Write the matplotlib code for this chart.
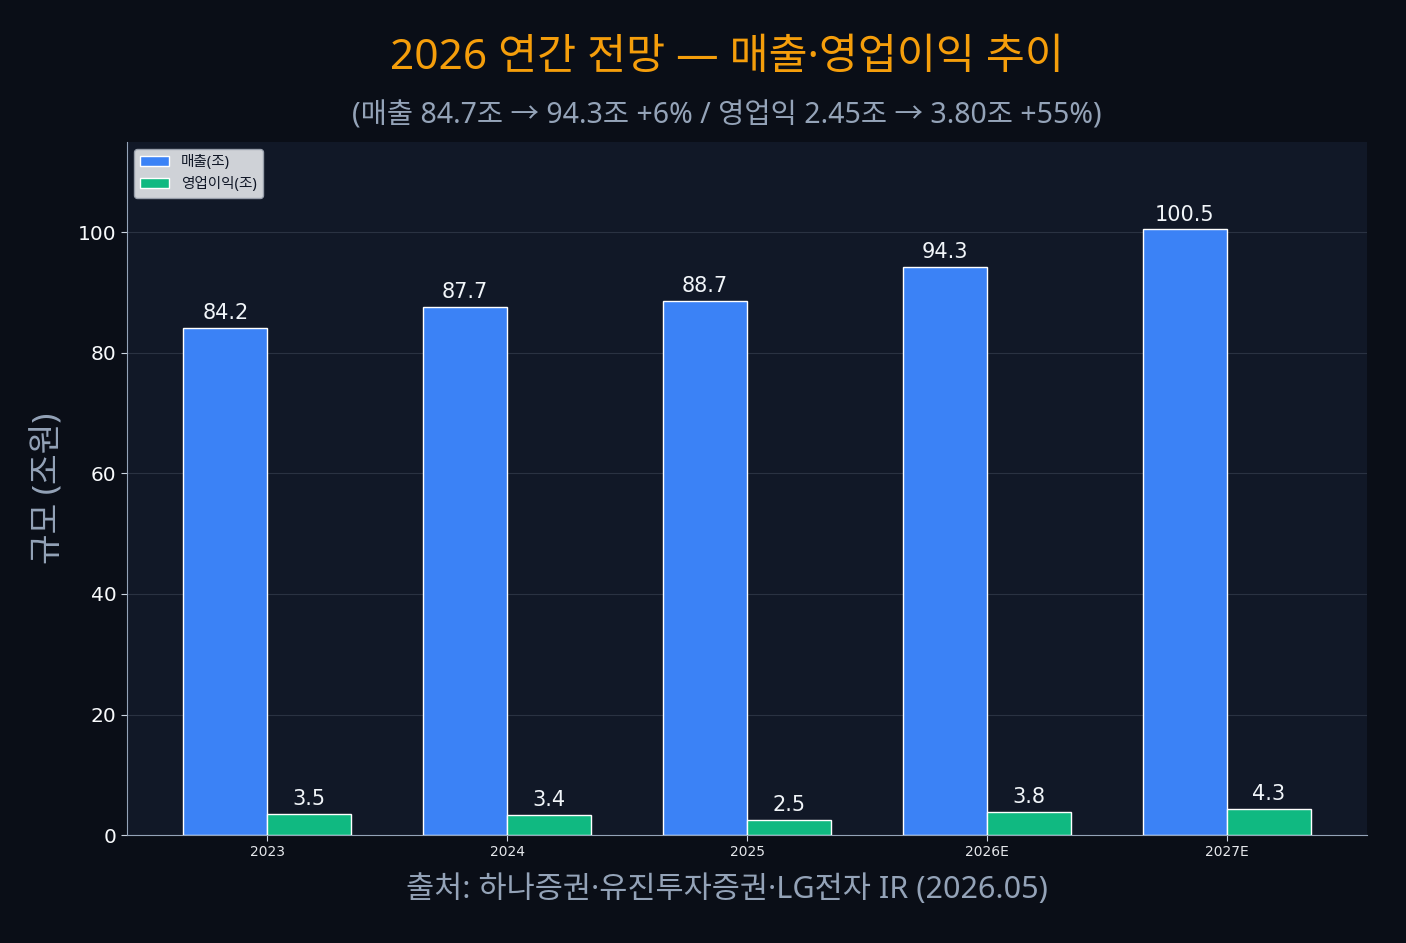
import numpy as np
import matplotlib
matplotlib.use("Agg")
import matplotlib.pyplot as plt

plt.rcParams['font.family'] = ['Noto Sans', 'Noto Sans CJK KR', 'DejaVu Sans']

years = ["2023", "2024", "2025", "2026E", "2027E"]
revenue = [84.2, 87.7, 88.7, 94.3, 100.5]
op_profit = [3.5, 3.4, 2.5, 3.8, 4.3]

title = "2026 연간 전망 — 매출·영업이익 추이"
subtitle = "(매출 84.7조 → 94.3조 +6% / 영업익 2.45조 → 3.80조 +55%)"
source = "출처: 하나증권·유진투자증권·LG전자 IR (2026.05)"

fig = plt.figure(figsize=(14.06, 9.43), dpi=100, facecolor="#0a0e17")
ax = fig.add_axes([0.0903, 0.1145, 0.8820, 0.7349])
ax.set_facecolor("#111827")

x = np.arange(len(years))
w = 0.35
b1 = ax.bar(x - w / 2, revenue, w, color="#3b82f6", edgecolor="white",
            linewidth=1, label="매출(조)", zorder=3)
b2 = ax.bar(x + w / 2, op_profit, w, color="#10b981", edgecolor="white",
            linewidth=1, label="영업이익(조)", zorder=3)

# value labels above each bar
for bars, vals in ((b1, revenue), (b2, op_profit)):
    for r, v in zip(bars, vals):
        ax.text(r.get_x() + r.get_width() / 2, v + 0.8, f"{v:.1f}",
                ha="center", va="bottom", color="#f1f5f9", fontsize=15,
                family="DejaVu Sans")

ax.set_ylim(0, 115)
ax.set_yticks([0, 20, 40, 60, 80, 100])
ax.set_xticks(x)
ax.tick_params(color="#cbd5e1", length=4)
ax.tick_params(axis="y", labelcolor="#f8fafc")
ax.tick_params(axis="x", labelcolor="#e5e7eb")
ax.set_xticklabels(years, fontsize=10, family="DejaVu Sans")
for lab in ax.get_yticklabels():
    lab.set_fontfamily("DejaVu Sans")
    lab.set_fontsize(14.5)

ax.grid(axis="y", color="#2a3242", linewidth=0.8, zorder=0)
ax.set_axisbelow(True)
for s in ("top", "right"):
    ax.spines[s].set_visible(False)
for s in ("left", "bottom"):
    ax.spines[s].set_color("#94a3b8")

ax.set_ylabel("규모 (조원)", fontsize=24, color="#94a3b8", labelpad=9)

leg = ax.legend(loc="upper left", fontsize=10.5, facecolor="#e5e7eb",
                edgecolor="#9ca3af", framealpha=0.9)
for t in leg.get_texts():
    t.set_color("#111827")

fig.text(0.517, 0.939, title, ha="center", va="center", fontsize=30.5,
         color="#f59e0b")
fig.text(0.517, 0.877, subtitle, ha="center", va="center", fontsize=20.5,
         color="#94a3b8")
fig.text(0.517, 0.057, source, ha="center", va="center", fontsize=22,
         color="#94a3b8")

fig.savefig("out.png", dpi=100, facecolor=fig.get_facecolor())
